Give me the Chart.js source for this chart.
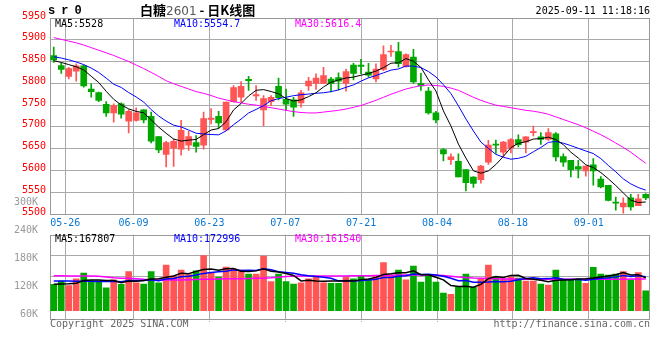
<!DOCTYPE html>
<html><head><meta charset="utf-8">
<script src="https://cdn.jsdelivr.net/npm/chart.js@4.4.1/dist/chart.umd.min.js"></script>
<style>
html,body{margin:0;padding:0;background:#fff;}
body{width:660px;height:360px;position:relative;overflow:hidden;}
canvas{position:absolute;left:0;}
.t{position:absolute;white-space:pre;font-family:'DejaVu Sans Mono',monospace;font-size:10px;line-height:12px;}
</style></head><body>
<canvas id="pc" width="660" height="232" style="top:0px"></canvas>
<canvas id="vc" width="660" height="150" style="top:190px"></canvas>
<div id="txt"></div>
<script>
// ---------- data ----------
const dates = ['05-22','05-23','05-26','05-27','05-28','05-29','05-30',
 '06-03','06-04','06-05','06-06','06-09','06-10','06-11','06-12','06-13','06-16','06-17','06-18','06-19','06-20',
 '06-23','06-24','06-25','06-26','06-27','06-30',
 '07-01','07-02','07-03','07-04','07-07','07-08','07-09','07-10','07-11','07-14','07-15','07-16','07-17','07-18',
 '07-21','07-22','07-23','07-24','07-25','07-28','07-29','07-30','07-31',
 '08-01','08-04','08-05','08-06','08-07','08-08','08-11','08-12','08-13','08-14','08-15',
 '08-18','08-19','08-20','08-21','08-22','08-25','08-26','08-27','08-28','08-29',
 '09-01','09-02','09-03','09-04','09-05','09-08','09-09','09-10','09-11'];
const dateTicks = ['05-26','06-09','06-23','07-07','07-21','08-04','08-18','09-01'];

const opens = [5864,5841,5816,5828,5840,5787,5779,5752,5732,5753,
 5713,5715,5739,5724,5678,5637,5651,5649,5658,5664,
 5658,5717,5724,5693,5758,5768,5809,5771,5739,5758,
 5793,5763,5762,5755,5794,5800,5800,5810,5813,5800,
 5842,5842,5826,5810,5832,5872,5873,5839,5860,5800,
 5782,5732,5648,5625,5621,5602,5585,5579,5619,5660,
 5642,5651,5671,5665,5687,5677,5671,5684,5632,5623,
 5609,5599,5613,5580,5566,5526,5516,5537,5519,5545];
const highs = [5883,5846,5837,5845,5842,5799,5780,5758,5753,5755,
 5740,5744,5740,5734,5678,5667,5672,5715,5690,5680,
 5734,5742,5736,5757,5795,5804,5816,5795,5772,5772,
 5812,5787,5768,5784,5814,5822,5837,5814,5824,5833,
 5846,5855,5846,5845,5886,5887,5894,5868,5878,5823,
 5791,5736,5650,5638,5638,5602,5586,5612,5669,5670,
 5667,5673,5682,5678,5702,5687,5696,5687,5638,5623,
 5623,5610,5627,5586,5566,5539,5537,5545,5545,5547];
const lows = [5848,5823,5810,5805,5791,5768,5758,5724,5711,5720,
 5686,5713,5709,5663,5641,5608,5609,5635,5646,5642,
 5649,5707,5697,5692,5757,5758,5784,5761,5703,5749,
 5762,5738,5724,5745,5784,5786,5799,5780,5785,5782,
 5808,5822,5814,5803,5829,5862,5837,5837,5800,5784,
 5729,5709,5622,5614,5585,5553,5561,5571,5614,5639,
 5632,5640,5654,5640,5679,5660,5669,5622,5609,5585,
 5583,5587,5566,5560,5530,5509,5502,5509,5519,5533];
const closes = [5854,5832,5834,5840,5794,5781,5761,5732,5749,5729,
 5736,5732,5716,5667,5647,5664,5667,5692,5678,5655,
 5719,5720,5709,5757,5790,5793,5806,5774,5765,5768,
 5767,5752,5745,5778,5805,5812,5818,5799,5805,5827,
 5823,5839,5819,5833,5866,5874,5845,5866,5803,5794,
 5732,5716,5638,5631,5585,5572,5570,5610,5658,5658,
 5665,5671,5659,5677,5688,5671,5687,5631,5619,5602,
 5603,5610,5599,5562,5531,5525,5525,5516,5535,5537];

const ma5 = [5852,5848,5843,5838,5830.8,5816.2,5802,5781.6,5763.4,5750.4,
 5741.4,5735.6,5732.4,5716,5699.6,5685.2,5672.2,5667.4,5669.6,5671.2,
 5682.2,5692.8,5696.2,5712,5739,5753.8,5771,5784,5785.6,5781.2,
 5776,5765.2,5759.4,5762,5769.4,5778.4,5791.6,5802.4,5807.8,5812.2,
 5814.4,5818.6,5822.6,5828.2,5836,5846.2,5847.4,5856.8,5850.8,5836.4,
 5808,5782.2,5736.6,5702.2,5660.4,5628.4,5599.2,5593.6,5599,5613.6,
 5632.2,5652.4,5662.2,5666,5672,5673.2,5676.4,5670.8,5659.2,5642,
 5628.4,5613,5606.6,5595.2,5581,5565.4,5548.4,5531.8,5526.4,5527.6];
const ma10 = [5861,5858,5854,5849,5843,5835,5825,5812,5798,5790.6,
 5778.8,5768.8,5757,5739.7,5725,5713.3,5703.9,5699.9,5692.8,5685.4,
 5683.7,5682.5,5681.8,5690.8,5705.1,5718,5731.9,5740.1,5748.8,5760.1,
 5764.9,5768.1,5771.7,5773.8,5775.3,5777.2,5778.4,5780.9,5784.9,5790.8,
 5796.4,5805.1,5812.5,5818,5824.1,5830.3,5833,5839.7,5839.5,5836.2,
 5827.1,5814.8,5796.7,5776.5,5748.4,5718.2,5690.7,5665.1,5650.6,5637,
 5630.3,5625.8,5627.9,5632.5,5642.8,5652.7,5664.4,5666.5,5662.6,5657,
 5650.8,5644.7,5638.7,5627.2,5611.5,5596.9,5580.7,5569.2,5560.8,5554.7];
const ma30 = [5905,5901,5897,5893,5888,5882,5876,5870,5864,5857,
 5850,5842,5834,5825,5816,5806,5799,5793,5787,5781,
 5777,5772,5766,5762,5758,5755,5752,5750,5747,5744,
 5741,5738,5735,5733,5732,5732,5734,5736,5738,5741,
 5745,5749,5755,5761,5768,5775,5781,5787,5791,5795,
 5796,5795,5793,5789,5784,5776,5768,5761,5755,5750,
 5747,5744,5741,5738,5736,5733,5729,5723,5717,5711,
 5705,5698,5690,5682,5673,5663,5653,5642,5629,5616.4];

const volumes = [135000,151000,128000,162000,192000,151000,151000,117000,158000,135000,
 199000,142000,136000,199000,142000,233000,177000,207000,184000,203000,
 281000,191000,172000,223000,212000,207000,187000,187000,279000,148000,
 187000,148000,136000,142000,162000,171000,142000,140000,140000,171000,
 162000,180000,157000,180000,245000,180000,207000,157000,228000,146000,
 177000,146000,90000,83000,119000,187000,119000,162000,233000,171000,
 162000,173000,167000,151000,151000,136000,131000,207000,157000,157000,
 157000,140000,221000,187000,182000,187000,199000,157000,194000,102000];
const vma5 = [135,136,137,140,153.6,156.8,156.8,154.6,153.8,142.4,
 152,150.2,154,162.2,163.6,170.4,177.4,191.6,188.6,200.8,
 210.4,213.2,206.2,214,215.8,201,200.2,203.2,214.4,201.6,
 197.6,189.8,179.6,152.2,155,151.8,150.6,151.4,151,152.8,
 151,158.6,162,170,184.8,188.4,193.8,193.8,203.4,183.6,
 183,170.8,157.4,128.4,123,125,119.6,134,164,174.4,
 169.4,180.2,181.2,164.8,160.8,155.6,147.2,155.2,156.4,157.6,
 161.8,163.6,166.4,172.4,177.4,183.4,195.2,182.4,183.8,167.8];
const vma10 = [152,152,151,150,150,150,149,149,150,148,
 154.4,153.5,154.3,158,153,161.2,163.8,172.8,175.4,182.2,
 190.4,195.3,198.9,201.3,208.3,205.7,206.7,204.7,214.2,208.7,
 199.3,195,191.4,183.3,178.3,174.7,170.2,165.5,151.6,153.9,
 151.4,154.6,156.7,160.5,168.8,169.7,176.2,177.9,186.7,184.2,
 185.7,182.3,175.6,165.9,153.3,154,145.2,145.7,146.2,148.7,
 147.2,149.9,157.6,164.4,167.6,162.5,163.7,168.2,160.6,159.2,
 158.7,155.4,160.8,164.4,167.5,172.6,179.4,174.4,178.1,173];
const vma30 = [178,178,177,177,177,177,176,172,168,166,
 165,163,160,158,157,157,157,157,158,159,
 160,161,162,163,163,163,164,165,166,168,
 171,174,176,177,177,177,177,177,177,177,
 178,178,178,179,180,181,182,182,182,182,
 182,181,180,176,172,169,167,166,164,163,
 162,162,161,161,161,161,161,161,161,161,
 161,161,161,161,161,161,161,162,161.5,161.5];

const priceTicks = [5950,5900,5850,5800,5750,5700,5650,5600,5550,5500];
const volTicks = [300000,240000,180000,120000,60000];

const priceLegend = [['MA5:5528','#000000'],['MA10:5554.7','#0000ff'],['MA30:5616.4','#ff00ff']];
const volLegend = [['MA5:167807','#000000'],['MA10:172996','#0000ff'],['MA30:161540','#ff00ff']];

// ---------- styling ----------
const UP = '#ff5555', DOWN = '#00a800';
const GRID = '#aaaaaa', FRAME = '#999999';
const MONO = "'DejaVu Sans Mono', monospace";
const N = dates.length;
const dirCol = closes.map((c, i) => c >= opens[i] ? UP : DOWN);
const xy = arr => arr.map((v, i) => ({x: i, y: v}));
const gridTicks = () => dateTicks.map(d => ({value: dates.indexOf(d) * N / (N - 1) - 0.5}));

const frame = {
  id: 'frame',
  beforeDatasetsDraw(c) {
    const a = c.chartArea, ctx = c.ctx;
    ctx.save();
    ctx.strokeStyle = FRAME; ctx.lineWidth = 1;
    ctx.strokeRect(Math.round(a.left) + 0.5, Math.round(a.top) + 0.5,
                   Math.round(a.right - a.left) - 1, Math.round(a.bottom - a.top));
    ctx.restore();
  }
};

const lineDs = (data, color, w, yId) => ({
  type: 'line', data: xy(data), borderColor: color, borderWidth: w,
  pointRadius: 0, tension: 0, order: 1, yAxisID: yId, xAxisID: 'x'
});

const xScale = (showLabels, tickLen) => ({
  type: 'linear', min: -0.5, max: N - 0.5, offset: false,
  afterBuildTicks: s => { s.ticks = gridTicks(); },
  afterFit: s => { s.height = showLabels ? 18 : tickLen; },
  grid: { color: GRID, borderDash: [1, 2], offset: false, drawTicks: !showLabels,
          tickLength: tickLen, tickBorderDash: [1, 2], tickColor: GRID },
  border: { display: false },
  ticks: { display: showLabels, autoSkip: false, maxRotation: 0, padding: 3,
           color: '#0a78d2', font: { family: MONO, size: 10 },
           callback: (v, i) => dateTicks[i] }
});

Chart.defaults.animation = false;

// ---------- price chart ----------
new Chart(document.getElementById('pc'), {
  type: 'bar',
  data: {
    datasets: [
      { label: 'wick', data: dates.map((d, i) => ({x: i, y: [lows[i], highs[i]]})),
        backgroundColor: dirCol, barThickness: 1, grouped: false, order: 3, minBarLength: 1,
        xAxisID: 'x', yAxisID: 'y' },
      { label: 'body', data: dates.map((d, i) => ({x: i, y: [opens[i], closes[i]]})),
        backgroundColor: dirCol, barThickness: 6, grouped: false, order: 2, minBarLength: 1,
        xAxisID: 'x', yAxisID: 'y' },
      lineDs(ma5, '#000000', 1, 'y'),
      lineDs(ma10, '#0000ff', 1, 'y'),
      lineDs(ma30, '#ff00ff', 1, 'y')
    ]
  },
  options: {
    responsive: false, maintainAspectRatio: false, devicePixelRatio: 1, events: [],
    layout: { padding: { top: 18, right: 10.5, left: 0, bottom: 0 } },
    plugins: { legend: { display: false }, tooltip: { enabled: false } },
    scales: {
      x: xScale(true, 0),
      y: {
        type: 'linear', position: 'left',
        min: priceTicks[priceTicks.length - 1], max: priceTicks[0],
        afterBuildTicks: s => { s.ticks = priceTicks.map(v => ({value: v})); },
        afterFit: s => { s.width = 50; },
        grid: { color: GRID, borderDash: [1, 2], drawTicks: false },
        border: { display: false },
        ticks: { color: '#ff0000', padding: 4, labelOffset: -2,
                 font: { family: MONO, size: 10 }, callback: v => String(v) }
      }
    }
  },
  plugins: [frame]
});

// ---------- volume chart ----------
new Chart(document.getElementById('vc'), {
  type: 'bar',
  data: {
    datasets: [
      { label: 'vol', data: xy(volumes), backgroundColor: dirCol, barThickness: 6,
        grouped: false, order: 2, xAxisID: 'x', yAxisID: 'y' },
      lineDs(vma5.map(v => v * 1000), '#000000', 1.5, 'y'),
      lineDs(vma10.map(v => v * 1000), '#0000ff', 1.5, 'y'),
      lineDs(vma30.map(v => v * 1000), '#ff00ff', 1.5, 'y')
    ]
  },
  options: {
    responsive: false, maintainAspectRatio: false, devicePixelRatio: 1, events: [],
    layout: { padding: { top: 44.5, right: 10.5, left: 0, bottom: 18 } },
    plugins: { legend: { display: false }, tooltip: { enabled: false } },
    scales: {
      x: xScale(false, 4),
      y: { type: 'linear', display: false, min: -37200, max: 388800 },
      lbl: {
        type: 'linear', position: 'left', min: 52450, max: 231750,
        afterBuildTicks: s => { s.ticks = volTicks.map(v => ({value: v})); },
        afterFit: s => { s.width = 50; },
        grid: { display: false }, border: { display: false },
        ticks: { color: '#999999', padding: 4, font: { family: MONO, size: 10 },
                 callback: v => (v / 1000) + 'K' }
      },
      q: {
        type: 'linear', position: 'right', min: 0, max: 4,
        afterBuildTicks: s => { s.ticks = [1, 2, 3].map(v => ({value: v})); },
        afterFit: s => { s.width = 0; },
        grid: { color: GRID, borderDash: [1, 2], drawTicks: false },
        border: { display: false }, ticks: { display: false }
      }
    }
  },
  plugins: [frame]
});

// ---------- texts ----------
const txt = document.getElementById('txt');
function addText(html, style) {
  const d = document.createElement('div');
  d.className = 't'; d.innerHTML = html; d.setAttribute('style', style);
  txt.appendChild(d);
}
addText('s r 0', "left:48px;top:4px;font-family:'Liberation Mono',monospace;font-weight:bold;font-size:12px;line-height:14px;letter-spacing:-0.6px;color:#000;");
addText('<b>白糖</b><span style="color:#555;font-family:\'DejaVu Sans\',sans-serif;font-size:12px">2601</span><b> - 日K线图</b>',
  "left:140px;top:2px;font-family:'Noto Sans CJK SC',sans-serif;font-size:13px;line-height:16px;color:#000;");
addText('2025-09-11 11:18:16', 'right:10px;top:5px;color:#000;');
const legX = [55, 174, 295];
priceLegend.forEach((l, i) => addText(l[0], `left:${legX[i]}px;top:18px;color:${l[1]};`));
volLegend.forEach((l, i) => addText(l[0], `left:${legX[i]}px;top:233px;color:${l[1]};`));
addText('Copyright 2025 SINA.COM', 'left:50px;top:318px;color:#666;');
addText('http://finance.sina.com.cn', 'right:10px;top:318px;color:#666;');
</script>
</body></html>
